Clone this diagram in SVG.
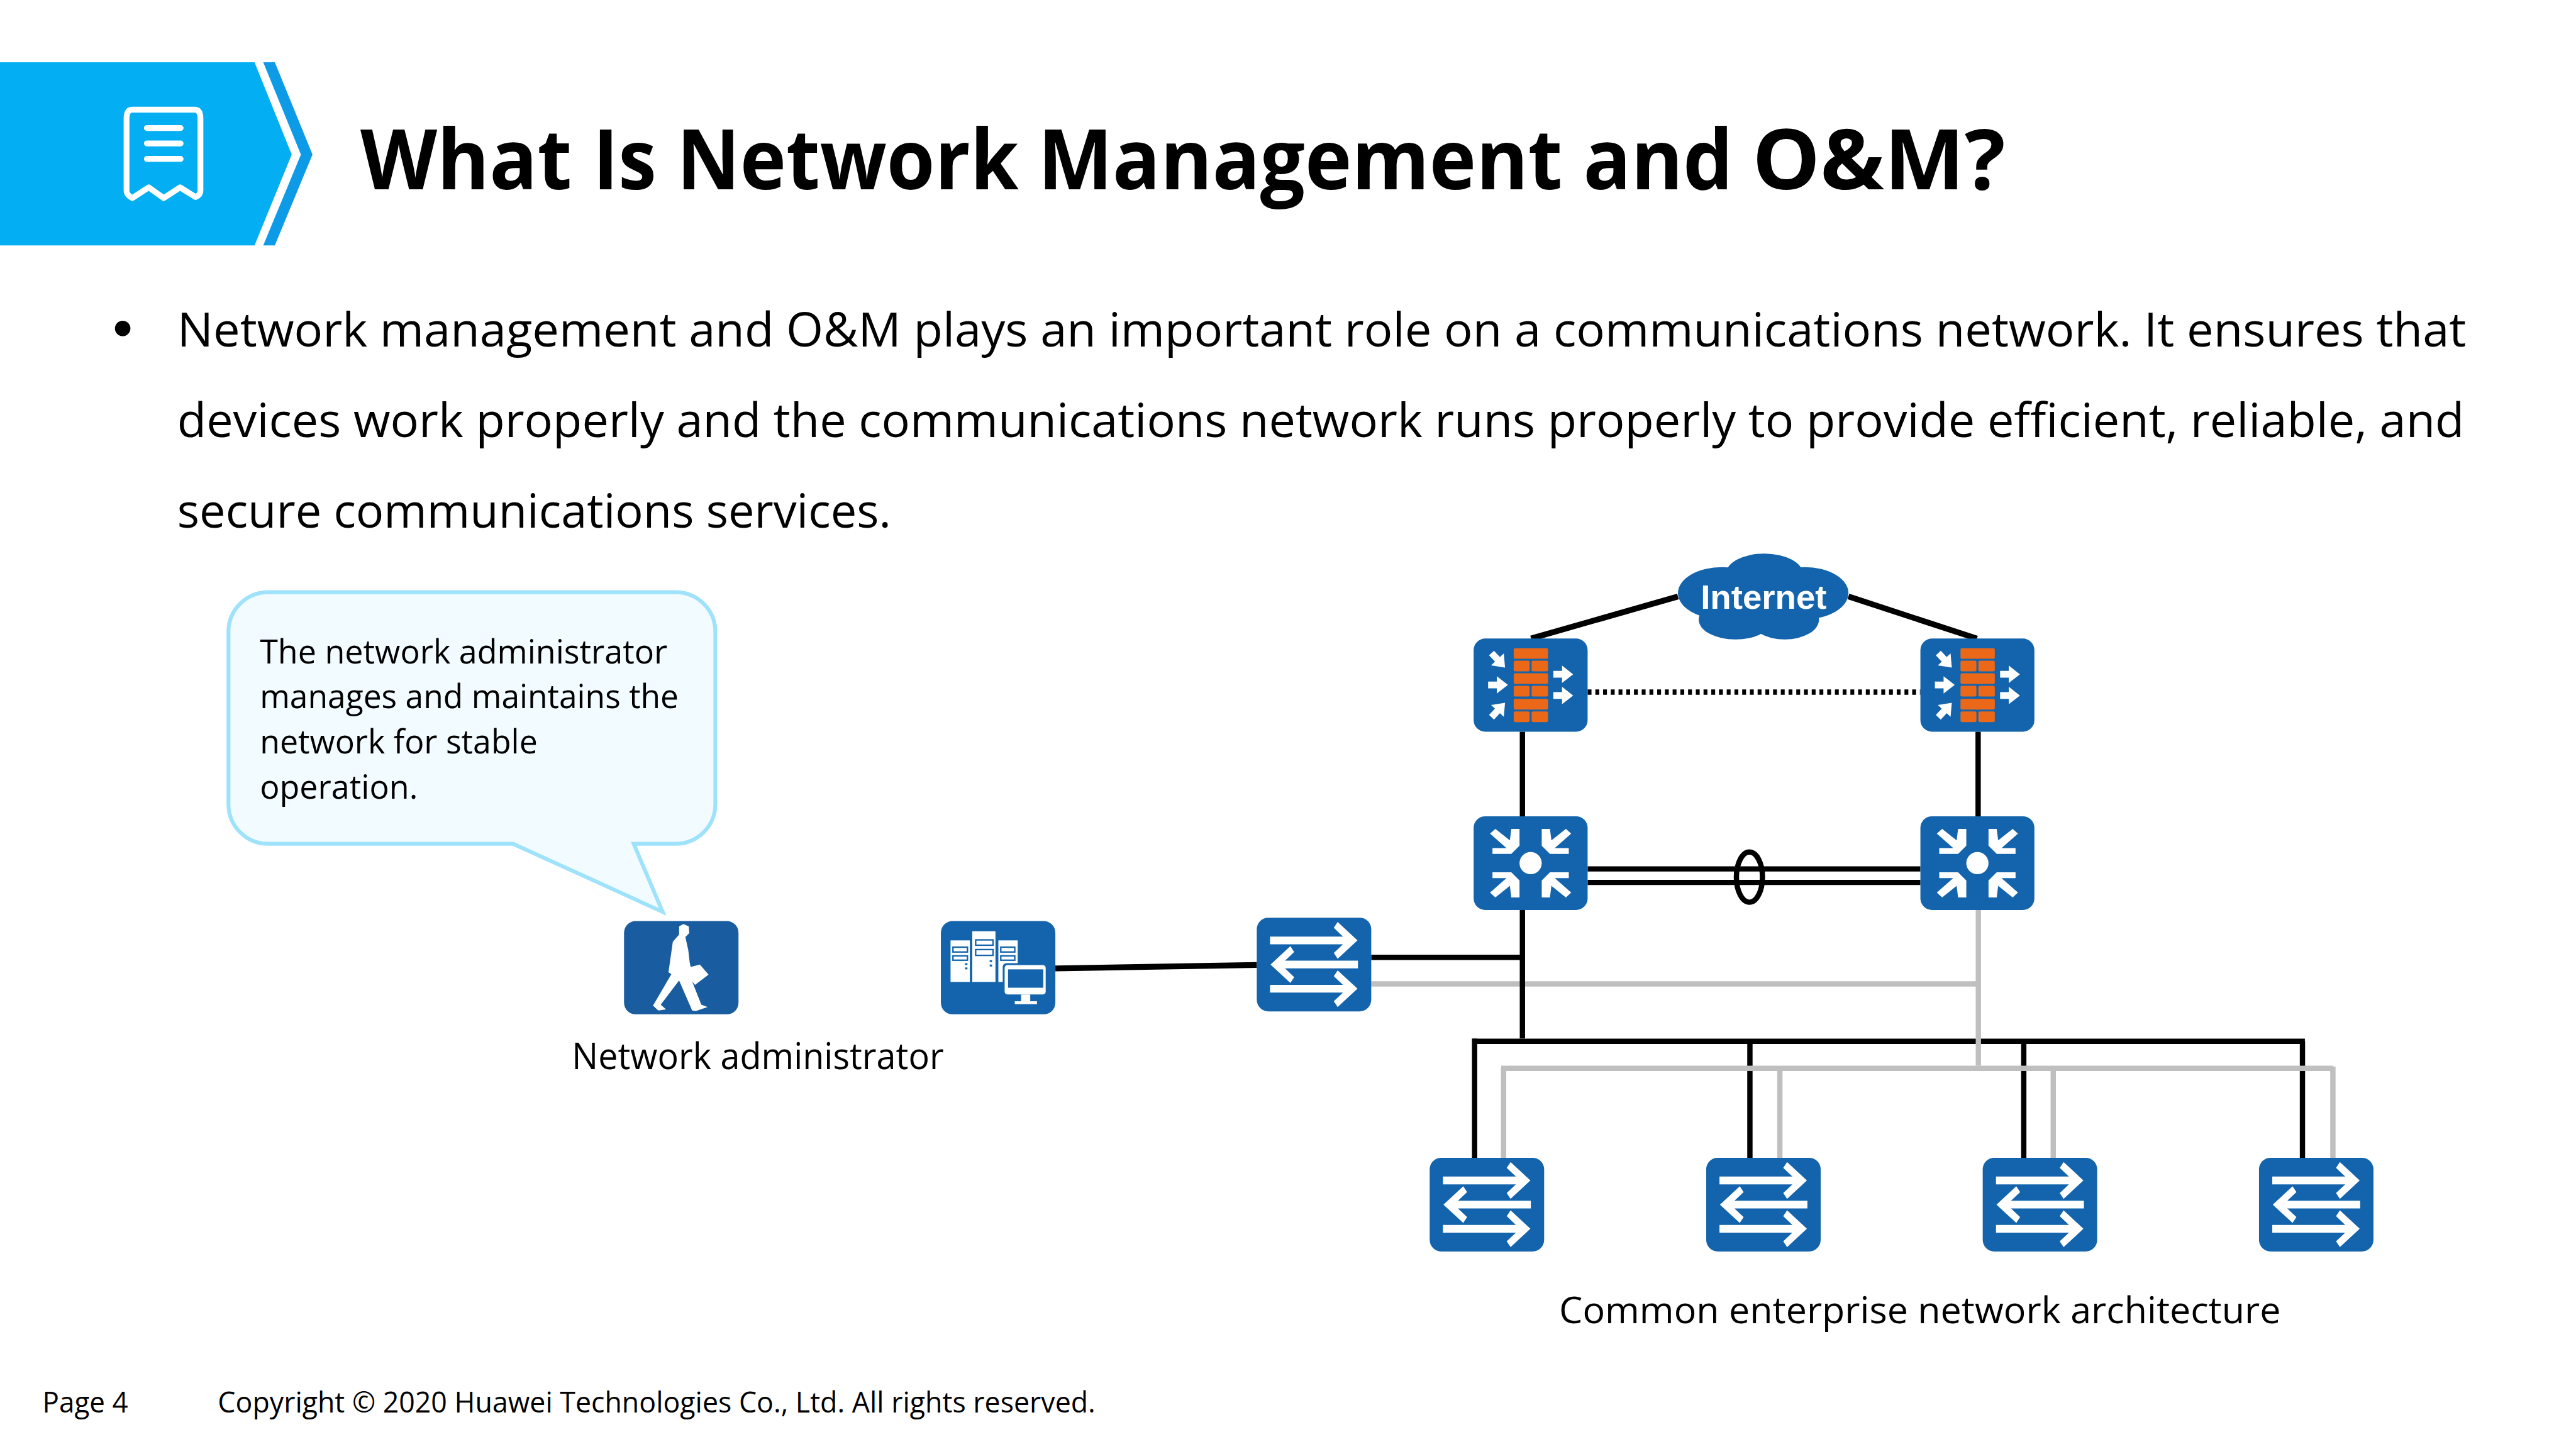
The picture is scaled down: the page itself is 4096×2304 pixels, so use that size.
<svg xmlns="http://www.w3.org/2000/svg" xmlns:xlink="http://www.w3.org/1999/xlink" width="4096" height="2304" viewBox="0 0 4096 2304">
<style>
text{font-family:"Open Sans","Noto Sans","Liberation Sans",sans-serif;fill:#000}
.title{font-size:172px;font-weight:700}
.body{font-size:97px}
.call{font-size:70px}
.lab{font-size:76px}
.foot{font-size:59px}
.blk{stroke:#000;fill:none}
.gry{stroke:#BFBFBF;fill:none}
.box{fill:#1364AC}
.w{fill:#fff}
.o{fill:#EB6819}
</style>
<defs>
<polygon id="fa" class="w" points="0,-7 18,-7 18,-18 41,0 18,18 18,7 0,7"/>
<polygon id="ra" class="w" points="-73,-71 -43,-47 -40,-71 -23,-71 -23,-36 -40,-19 -79,-19 -79,-31 -50,-31 -84,-61"/>
<polygon id="sa" class="w" points="-91,-8 60,-8 41,-26 49,-38 90,0 49,38 41,26 60,8 -91,8"/>
<g id="firewall">
<rect class="box" x="0" y="0" width="236" height="193" rx="24"/>
<rect class="o" x="83" y="20" width="71" height="22" rx="3"/>
<rect class="o" x="83" y="46" width="33" height="22" rx="3"/>
<rect class="o" x="120" y="46" width="34" height="22" rx="3"/>
<rect class="o" x="83" y="72" width="71" height="22" rx="3"/>
<rect class="o" x="83" y="98" width="33" height="22" rx="3"/>
<rect class="o" x="120" y="98" width="34" height="22" rx="3"/>
<rect class="o" x="83" y="125" width="71" height="22" rx="3"/>
<rect class="o" x="83" y="151" width="33" height="22" rx="3"/>
<rect class="o" x="120" y="151" width="34" height="22" rx="3"/>
<use href="#fa" transform="translate(165,74)"/>
<use href="#fa" transform="translate(165,118)"/>
<use href="#fa" transform="translate(30,96)"/>
<use href="#fa" transform="translate(65,60) rotate(47) translate(-41,0)"/>
<use href="#fa" transform="translate(65,133) rotate(-47) translate(-41,0)"/>
</g>
<g id="router">
<rect class="box" x="-118" y="-97" width="236" height="194" rx="24"/>
<circle class="w" cx="0" cy="0" r="23"/>
<use href="#ra"/>
<use href="#ra" transform="scale(-1,1)"/>
<use href="#ra" transform="scale(1,-1)"/>
<use href="#ra" transform="scale(-1,-1)"/>
</g>
<g id="switch">
<rect class="box" x="-118.500" y="-97" width="237" height="194" rx="24"/>
<use href="#sa" transform="translate(0,-50)"/>
<use href="#sa" transform="rotate(180)"/>
<use href="#sa" transform="translate(0,50)"/>
</g>
</defs>
<g transform="scale(0.768)">
<g id="banner">
<polygon points="0,129 527,129 604,320 527,508 0,508" fill="#03AFF2"/>
<polygon points="545,129 569,129 647,320 569,508 545,508 623,320" fill="#0D9BE8"/>
<path d="M274,227H403Q415,227 415,245V395Q415,404 405,408L373,388L339,410L308,388L274,410Q262,404 262,395V245Q262,227 274,227Z" fill="none" stroke="#fff" stroke-width="12" stroke-linejoin="round"/>
<path d="M304,265H374M304,297H374M304,329H374" fill="none" stroke="#fff" stroke-width="12" stroke-linecap="round"/>
</g>
<text class="title" y="392"><tspan x="746" textLength="438" lengthAdjust="spacingAndGlyphs">What</tspan> <tspan x="1228" textLength="131" lengthAdjust="spacingAndGlyphs">Is</tspan> <tspan x="1401" textLength="708" lengthAdjust="spacingAndGlyphs">Network</tspan> <tspan x="2149" textLength="1086" lengthAdjust="spacingAndGlyphs">Management</tspan> <tspan x="3278" textLength="310" lengthAdjust="spacingAndGlyphs">and</tspan> <tspan x="3628" textLength="524" lengthAdjust="spacingAndGlyphs">O&amp;M?</tspan></text>
<ellipse cx="254" cy="680" rx="16" ry="16"/>
<text class="body" x="367" y="718" textLength="4739" lengthAdjust="spacingAndGlyphs">Network management and O&amp;M plays an important role on a communications network. It ensures that</text>
<text class="body" x="367" y="905" textLength="4735" lengthAdjust="spacingAndGlyphs">devices work properly and the communications network runs properly to provide efficient, reliable, and</text>
<text class="body" x="367" y="1092" textLength="1478" lengthAdjust="spacingAndGlyphs">secure communications services.</text>
<g id="callout">
<path d="M555,1226H1399A82,82 0 0 1 1481,1308V1665A82,82 0 0 1 1399,1747H1312L1372,1888L1062,1747H555A82,82 0 0 1 473,1665V1308A82,82 0 0 1 555,1226Z" fill="#F2FBFF" stroke="#9FE2FB" stroke-width="8"/>
<text class="call" x="538" y="1374" textLength="844" lengthAdjust="spacingAndGlyphs">The network administrator</text>
<text class="call" x="538" y="1466" textLength="867" lengthAdjust="spacingAndGlyphs">manages and maintains the</text>
<text class="call" x="538" y="1560" textLength="575" lengthAdjust="spacingAndGlyphs">network for stable</text>
<text class="call" x="538" y="1654" textLength="327" lengthAdjust="spacingAndGlyphs">operation.</text>
</g>
<g id="connectors" stroke-width="11">
<path class="blk" d="M3474,1235L3170,1322M3827,1235L4093,1322" stroke-width="12"/>
<path class="blk" d="M3287,1433H3976" stroke-dasharray="8 8"/>
<path class="blk" d="M3152,1515V1690M4095.500,1515V1690"/>
<path class="blk" d="M3287,1799H3976M3287,1827H3976"/>
<ellipse class="blk" cx="3622" cy="1816" rx="27" ry="52"/>
<path class="blk" d="M2185,2005L2602,1998" stroke-width="12"/>
<path class="gry" d="M2839,2037H4096"/>
<path class="blk" d="M2839,1982H3152M3152,1884V2150"/>
<path class="blk" d="M3051,2156H4772M3053,2150V2397M3623,2156V2397M4190,2156V2397M4767,2156V2397"/>
<path class="gry" d="M4096,1884V2206M3108,2212H4830M3113,2212V2397M3685,2212V2397M4251,2212V2397M4830,2208V2397"/>
</g>
<g id="internet">
<g fill="#1364AC">
<ellipse cx="3653" cy="1189" rx="80" ry="43"/>
<ellipse cx="3566" cy="1228" rx="92" ry="54"/>
<ellipse cx="3736" cy="1228" rx="91" ry="54"/>
<ellipse cx="3593" cy="1283" rx="76" ry="41"/>
<ellipse cx="3695" cy="1283" rx="71" ry="41"/>
<rect x="3560" y="1190" width="180" height="90"/>
</g>
<text x="3521" y="1261" textLength="261" lengthAdjust="spacingAndGlyphs" style="font-family:'Liberation Sans',Arial,sans-serif;font-size:71px;font-weight:700;fill:#fff">Internet</text>
</g>
<use id="firewall-left" href="#firewall" x="3051" y="1322"/>
<use id="firewall-right" href="#firewall" x="3976" y="1322"/>
<use id="router-left" href="#router" x="3169" y="1787"/>
<use id="router-right" href="#router" x="4094" y="1787"/>
<use id="switch-core" href="#switch" x="2720.500" y="1997"/>
<use id="switch-1" href="#switch" x="3078.500" y="2494"/>
<use id="switch-2" href="#switch" x="3651" y="2494"/>
<use id="switch-3" href="#switch" x="4223.500" y="2494"/>
<use id="switch-4" href="#switch" x="4795.500" y="2494"/>
<g id="admin">
<rect x="1292" y="1907" width="237" height="193" rx="24" fill="#195DA0"/>
<polygon class="w" points="1415,1913 1426,1918 1427,1932 1419,1940 1425,1967 1428,1993 1430,2002 1449,1997 1467,2018 1439,2039 1433,2032 1452,2080 1465,2085 1441,2093 1433,2092 1406,2030 1368,2080 1379,2090 1363,2092 1352,2082 1390,2017 1384,2013 1393,1950 1406,1935 1406,1918"/>
</g>
<g id="server">
<rect class="box" x="1948" y="1907" width="237" height="193" rx="24"/>
<rect class="w" x="1968" y="1947" width="40" height="86"/>
<rect class="w" x="2013" y="1928" width="48" height="105"/>
<rect class="w" x="2067" y="1947" width="40" height="86"/>
<g fill="#fff" stroke="#1364AC" stroke-width="3">
<rect x="1973" y="1961" width="30" height="10"/>
<rect x="1973" y="1979" width="30" height="9"/>
<rect x="2020" y="1946" width="36" height="11"/>
<rect x="2020" y="1966" width="36" height="12"/>
<rect x="2072" y="1961" width="29" height="10"/>
<rect x="2072" y="1979" width="29" height="9"/>
</g>
<g class="box">
<rect x="1998" y="1994" width="5" height="4"/>
<rect x="1998" y="2003" width="5" height="4"/>
<rect x="2049" y="1988" width="5" height="4"/>
<rect x="2049" y="1997" width="5" height="4"/>
</g>
<rect x="2076" y="1994" width="93" height="69" rx="8" fill="#1364AC"/>
<rect class="w" x="2080" y="1998" width="85" height="61" rx="6"/>
<rect class="box" x="2087" y="2007" width="73" height="38"/>
<rect class="w" x="2114" y="2059" width="19" height="14"/>
<rect class="w" x="2101" y="2073" width="46" height="6"/>
</g>
<text class="lab" x="1184" y="2214" textLength="770" lengthAdjust="spacingAndGlyphs">Network administrator</text>
<text class="lab" x="3228" y="2739" textLength="1494" lengthAdjust="spacingAndGlyphs">Common enterprise network architecture</text>
<text class="foot" x="88" y="2924" textLength="177" lengthAdjust="spacingAndGlyphs">Page 4</text>
<text class="foot" x="451" y="2924" textLength="1817" lengthAdjust="spacingAndGlyphs">Copyright © 2020 Huawei Technologies Co., Ltd. All rights reserved.</text>
</g>
</svg>
